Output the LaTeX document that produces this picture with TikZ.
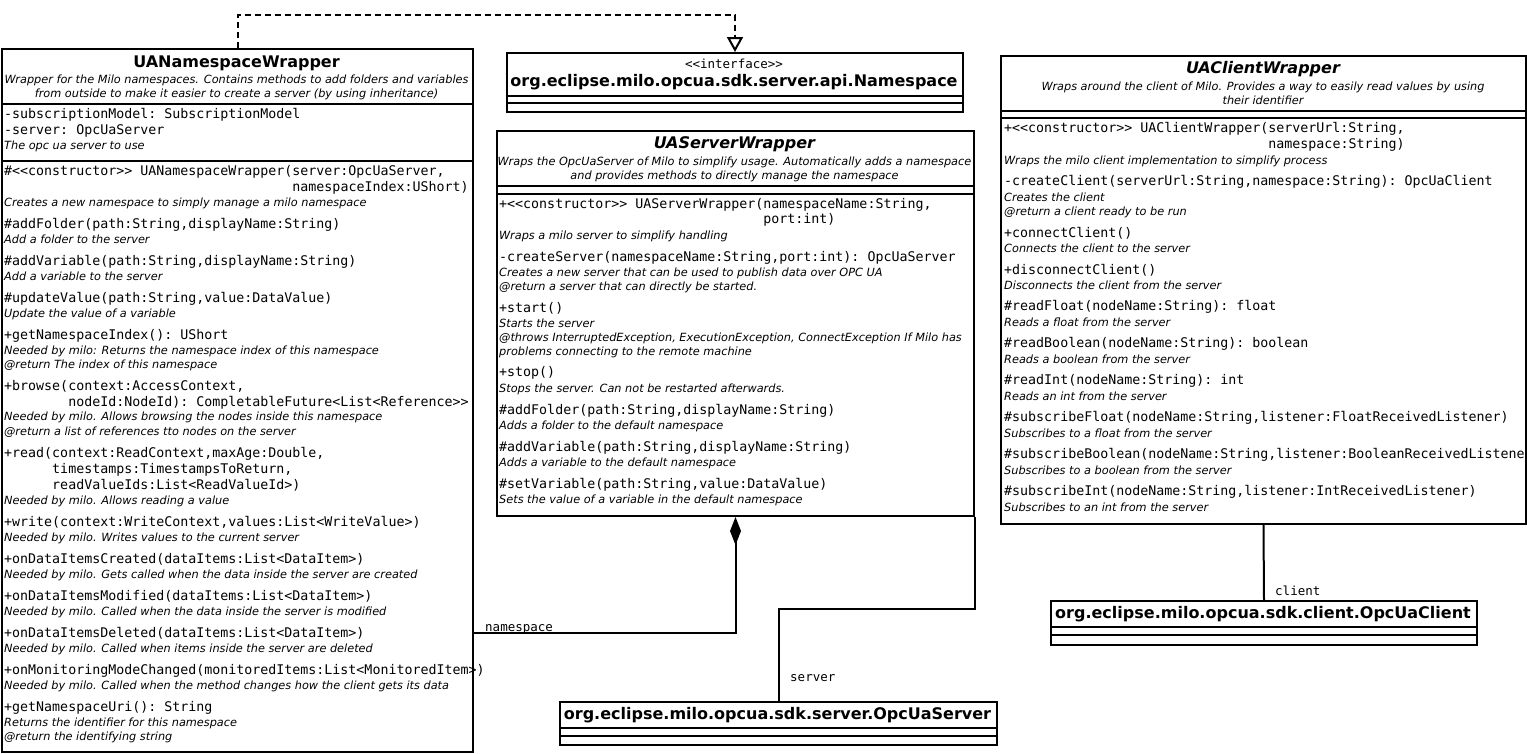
\documentclass[tikz,border=0pt]{standalone}
\usepackage{fontspec}
\setmainfont{DejaVu Sans}
\setmonofont{DejaVu Sans Mono}
\usetikzlibrary{arrows.meta}

\tikzset{
  classbox/.style={draw, line width=2pt, inner sep=0pt, anchor=north west},
  cname/.style={font=\fontsize{16}{19}\selectfont\bfseries, anchor=base, inner sep=0pt},
  aname/.style={cname, font=\fontsize{16}{19}\selectfont\bfseries\itshape},
  cdesc/.style={font=\fontsize{11.3}{13}\selectfont\itshape, anchor=base, inner sep=0pt},
  member/.style={font=\ttfamily\fontsize{13.3}{16}\selectfont, anchor=base west, inner sep=0pt},
  note/.style={font=\fontsize{11.3}{13}\selectfont\itshape, anchor=base west, inner sep=0pt},
  role/.style={font=\ttfamily\fontsize{12.5}{15}\selectfont, anchor=base west, inner sep=0pt},
  assoc/.style={line width=2pt},
  realize/.style={line width=2pt, dash pattern=on 6pt off 4pt, -{Triangle[open, length=15pt, width=16pt]}},
  compose/.style={line width=2pt, -{Diamond[length=28pt, width=11pt]}}
}

\begin{document}
\begin{tikzpicture}[x=1pt, y=-1pt]
  \useasboundingbox (0,0) rectangle (1527,753);

  % class boxes
  \node[classbox, minimum width=471pt, minimum height=703pt] (nsw) at (1,48) {};
  \node[classbox, minimum width=456pt, minimum height=59pt] (ns) at (506,52) {};
  \node[classbox, minimum width=477pt, minimum height=385pt] (srv) at (496,130) {};
  \node[classbox, minimum width=525pt, minimum height=468pt] (cli) at (1000,55) {};
  \node[classbox, minimum width=437pt, minimum height=43pt] (opcsrv) at (559,701) {};
  \node[classbox, minimum width=426pt, minimum height=44pt] (opccli) at (1050,600) {};

  % compartment lines
  \foreach \n/\d in {nsw/56, nsw/113, ns/44, ns/51, srv/56, srv/64, cli/56, cli/63,
                     opcsrv/27, opcsrv/35, opccli/27, opccli/35}
    \draw[line width=2pt] ([yshift=-\d pt]\n.north west) -- ([yshift=-\d pt]\n.north east);

  % UANamespaceWrapper
  \node[cname] (nswT) at (236.5,67) {UANamespaceWrapper};
  \node[cdesc] (nswD1) at (236.5,83) {Wrapper for the Milo namespaces. Contains methods to add folders and variables};
  \node[cdesc] (nswD2) at (236.5,97) {from outside to make it easier to create a server (by using inheritance)};
  \foreach \y/\txt [count=\i] in {
      118/{-subscriptionModel: SubscriptionModel},
      134/{-server: OpcUaServer},
      175/{\#<<constructor>> UANamespaceWrapper(server:OpcUaServer,},
      191/{\hphantom{\#<<constructor>> UANamespaceWrapper(}namespaceIndex:UShort)},
      228/{\#addFolder(path:String,displayName:String)},
      265/{\#addVariable(path:String,displayName:String)},
      302/{\#updateValue(path:String,value:DataValue)},
      339/{+getNamespaceIndex(): UShort},
      390/{+browse(context:AccessContext,},
      406/{\hphantom{+browse(}nodeId:NodeId): CompletableFuture<List<Reference>>},
      457/{+read(context:ReadContext,maxAge:Double,},
      473/{\hphantom{+read(}timestamps:TimestampsToReturn,},
      489/{\hphantom{+read(}readValueIds:List<ReadValueId>)},
      526/{+write(context:WriteContext,values:List<WriteValue>)},
      563/{+onDataItemsCreated(dataItems:List<DataItem>)},
      600/{+onDataItemsModified(dataItems:List<DataItem>)},
      637/{+onDataItemsDeleted(dataItems:List<DataItem>)},
      674/{+onMonitoringModeChanged(monitoredItems:List<MonitoredItem>)},
      711/{+getNamespaceUri(): String}}
    \node[member] (nswm\i) at (4,\y) {\txt};
  \foreach \y/\txt [count=\i] in {
      149/{The opc ua server to use},
      206/{Creates a new namespace to simply manage a milo namespace},
      243/{Add a folder to the server},
      280/{Add a variable to the server},
      317/{Update the value of a variable},
      354/{Needed by milo: Returns the namespace index of this namespace},
      368/{@return The index of this namespace},
      420/{Needed by milo. Allows browsing the nodes inside this namespace},
      435/{@return a list of references tto nodes on the server},
      504/{Needed by milo. Allows reading a value},
      541/{Needed by milo. Writes values to the current server},
      578/{Needed by milo. Gets called when the data inside the server are created},
      615/{Needed by milo. Called when the data inside the server is modified},
      652/{Needed by milo. Called when items inside the server are deleted},
      689/{Needed by milo. Called when the method changes how the client gets its data},
      726/{Returns the identifier for this namespace},
      740/{@return the identifying string}}
    \node[note] (nswn\i) at (4,\y) {\txt};

  % Namespace interface
  \node[role, anchor=base] (nsS) at (734,68) {<<interface>>};
  \node[cname] (nsT) at (734,86) {org.eclipse.milo.opcua.sdk.server.api.Namespace};

  % UAServerWrapper
  \node[aname] (srvT) at (734.5,148) {UAServerWrapper};
  \node[cdesc] (srvD1) at (734.5,165) {Wraps the OpcUaServer of Milo to simplify usage. Automatically adds a namespace};
  \node[cdesc] (srvD2) at (734.5,179) {and provides methods to directly manage the namespace};
  \foreach \y/\txt [count=\i] in {
      208/{+<<constructor>> UAServerWrapper(namespaceName:String,},
      223/{\hphantom{+<<constructor>> UAServerWrapper(}port:int)},
      261/{-createServer(namespaceName:String,port:int): OpcUaServer},
      312/{+start()},
      376/{+stop()},
      414/{\#addFolder(path:String,displayName:String)},
      451/{\#addVariable(path:String,displayName:String)},
      488/{\#setVariable(path:String,value:DataValue)}}
    \node[member] (srvm\i) at (499,\y) {\txt};
  \foreach \y/\txt [count=\i] in {
      239/{Wraps a milo server to simplify handling},
      276/{Creates a new server that can be used to publish data over OPC UA},
      290/{@return a server that can directly be started.},
      327/{Starts the server},
      341/{@throws InterruptedException, ExecutionException, ConnectException If Milo has},
      355/{problems connecting to the remote machine},
      392/{Stops the server. Can not be restarted afterwards.},
      429/{Adds a folder to the default namespace},
      466/{Adds a variable to the default namespace},
      503/{Sets the value of a variable in the default namespace}}
    \node[note] (srvn\i) at (499,\y) {\txt};

  % UAClientWrapper
  \node[aname] (cliT) at (1263,73) {UAClientWrapper};
  \node[cdesc] (cliD1) at (1263,90) {Wraps around the client of Milo. Provides a way to easily read values by using};
  \node[cdesc] (cliD2) at (1263,104) {their identifier};
  \foreach \y/\txt [count=\i] in {
      132/{+<<constructor>> UAClientWrapper(serverUrl:String,},
      148/{\hphantom{+<<constructor>> UAClientWrapper(}namespace:String)},
      185/{-createClient(serverUrl:String,namespace:String): OpcUaClient},
      237/{+connectClient()},
      274/{+disconnectClient()},
      310/{\#readFloat(nodeName:String): float},
      347/{\#readBoolean(nodeName:String): boolean},
      384/{\#readInt(nodeName:String): int},
      421/{\#subscribeFloat(nodeName:String,listener:FloatReceivedListener)},
      458/{\#subscribeBoolean(nodeName:String,listener:BooleanReceivedListene},
      495/{\#subscribeInt(nodeName:String,listener:IntReceivedListener)}}
    \node[member] (clim\i) at (1004,\y) {\txt};
  \foreach \y/\txt [count=\i] in {
      164/{Wraps the milo client implementation to simplify process},
      201/{Creates the client},
      215/{@return a client ready to be run},
      252/{Connects the client to the server},
      289/{Disconnects the client from the server},
      326/{Reads a float from the server},
      363/{Reads a boolean from the server},
      400/{Reads an int from the server},
      437/{Subscribes to a float from the server},
      474/{Subscribes to a boolean from the server},
      511/{Subscribes to an int from the server}}
    \node[note] (clin\i) at (1004,\y) {\txt};

  % library classes
  \node[cname] (opcsrvT) at (777.5,719) {org.eclipse.milo.opcua.sdk.server.OpcUaServer};
  \node[cname] (opccliT) at (1263,618) {org.eclipse.milo.opcua.sdk.client.OpcUaClient};

  % relations
  \draw[realize] (nsw.north) -- ++(0,-33) -| (ns.north);
  \draw[compose] ([yshift=-585pt]nsw.north east) -| (srv.south);
  \draw[assoc] (srv.south east) -- ++(0,92) -| (opcsrv.north);
  \draw[assoc] (cli.south) -- (opccli.north);
  \node[role] (nsL) at (485,631) {namespace};
  \node[role] (srvL) at (790,681) {server};
  \node[role] (cliL) at (1275,595) {client};
\end{tikzpicture}
\end{document}
